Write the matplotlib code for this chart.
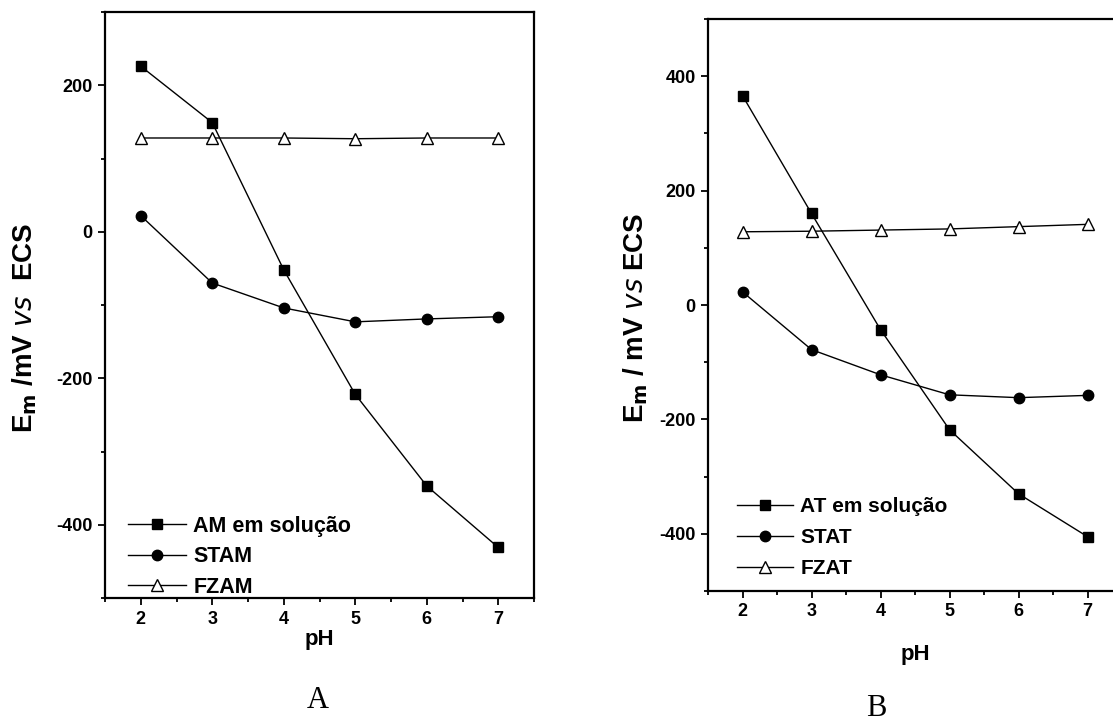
import matplotlib
matplotlib.use("Agg")
import matplotlib.pyplot as plt
from matplotlib.ticker import MultipleLocator

plt.rcParams['font.family'] = ['Liberation Sans', 'DejaVu Sans']
plt.rcParams['axes.unicode_minus'] = False

ph = [2, 3, 4, 5, 6, 7]

# Panel A
am_sol = [226, 149, -52, -222, -347, -431]
stam = [22, -70, -104, -123, -119, -116]
fzam = [128, 128, 128, 127, 128, 128]

# Panel B
at_sol = [366, 160, -43, -218, -330, -405]
stat = [23, -78, -122, -157, -162, -158]
fzat = [128, 129, 131, 133, 137, 141]

labels_a = ['AM em solução', 'STAM', 'FZAM']
labels_b = ['AT em solução', 'STAT', 'FZAT']

W, H = 1113, 727
fig = plt.figure(figsize=(W / 100, H / 100), dpi=100)

def px_axes(l, t, r, b):
    return fig.add_axes([l / W, 1 - b / H, (r - l) / W, (b - t) / H])

axA = px_axes(105, 12, 534, 598)
axB = px_axes(708, 19, 1122, 591)

def style(ax, ylim, ymaj):
    ax.set_xlim(1.5, 7.5)
    ax.set_ylim(*ylim)
    ax.xaxis.set_major_locator(MultipleLocator(1))
    ax.xaxis.set_minor_locator(MultipleLocator(0.5))
    ax.yaxis.set_major_locator(MultipleLocator(ymaj))
    ax.yaxis.set_minor_locator(MultipleLocator(ymaj / 2))
    ax.tick_params(which='both', direction='out', top=False, right=False,
                   labelsize=13, width=1.3)
    ax.tick_params(which='major', length=5, pad=4)
    ax.tick_params(which='minor', length=3)
    for lab in ax.get_xticklabels() + ax.get_yticklabels():
        lab.set_fontweight('bold')
    for s in ax.spines.values():
        s.set_linewidth(1.6)

def draw(ax, s1, s2, s3, labels):
    ax.plot(ph, s1, '-', color='black', lw=1.0, marker='s', ms=7.5,
            mfc='black', mec='black', label=labels[0])
    ax.plot(ph, s2, '-', color='black', lw=1.0, marker='o', ms=7.5,
            mfc='black', mec='black', label=labels[1])
    ax.plot(ph, s3, '-', color='black', lw=1.0, marker='^', ms=8,
            mfc='white', mec='black', mew=1.0, label=labels[2])

draw(axA, am_sol, stam, fzam, labels_a)
draw(axB, at_sol, stat, fzat, labels_b)

style(axA, (-500, 300), 200)
style(axB, (-500, 500), 200)

for ax, (lx, ly), sp, fs in ((axA, (128, 516), 0.43, 15.5),
                             (axB, (737, 497), 0.58, 15)):
    ax.legend(loc='upper left', bbox_to_anchor=(lx / W, 1 - ly / H),
              bbox_transform=fig.transFigure, frameon=False,
              numpoints=1, handlelength=2.7, handletextpad=0.33,
              labelspacing=sp, borderaxespad=0, borderpad=0,
              prop={'size': fs, 'weight': 'bold'})

axA.set_xlabel('pH', fontsize=16, fontweight='bold', labelpad=1)
axB.set_xlabel('pH', fontsize=16, fontweight='bold', labelpad=17)

axA.set_ylabel(r'E$_\mathbf{m}$ /mV $\mathbf{\it{vs}}$  ECS', fontsize=20,
               fontweight='bold')
axB.set_ylabel(r'E$_\mathbf{m}$ / mV $\mathbf{\it{vs}}$ ECS', fontsize=20,
               fontweight='bold')
axA.yaxis.set_label_coords((39 - 105) / 429, (598 - 328) / 586)
axB.yaxis.set_label_coords((650 - 708) / 414, (591 - 318) / 572)

fig.text(318 / W, 1 - 700 / H, 'A', fontsize=22, family='Liberation Serif',
         ha='center', va='center')
fig.text(876 / W, 1 - 708 / H, 'B', fontsize=22, family='Liberation Serif',
         ha='center', va='center')

fig.savefig('out.png', dpi=100)
